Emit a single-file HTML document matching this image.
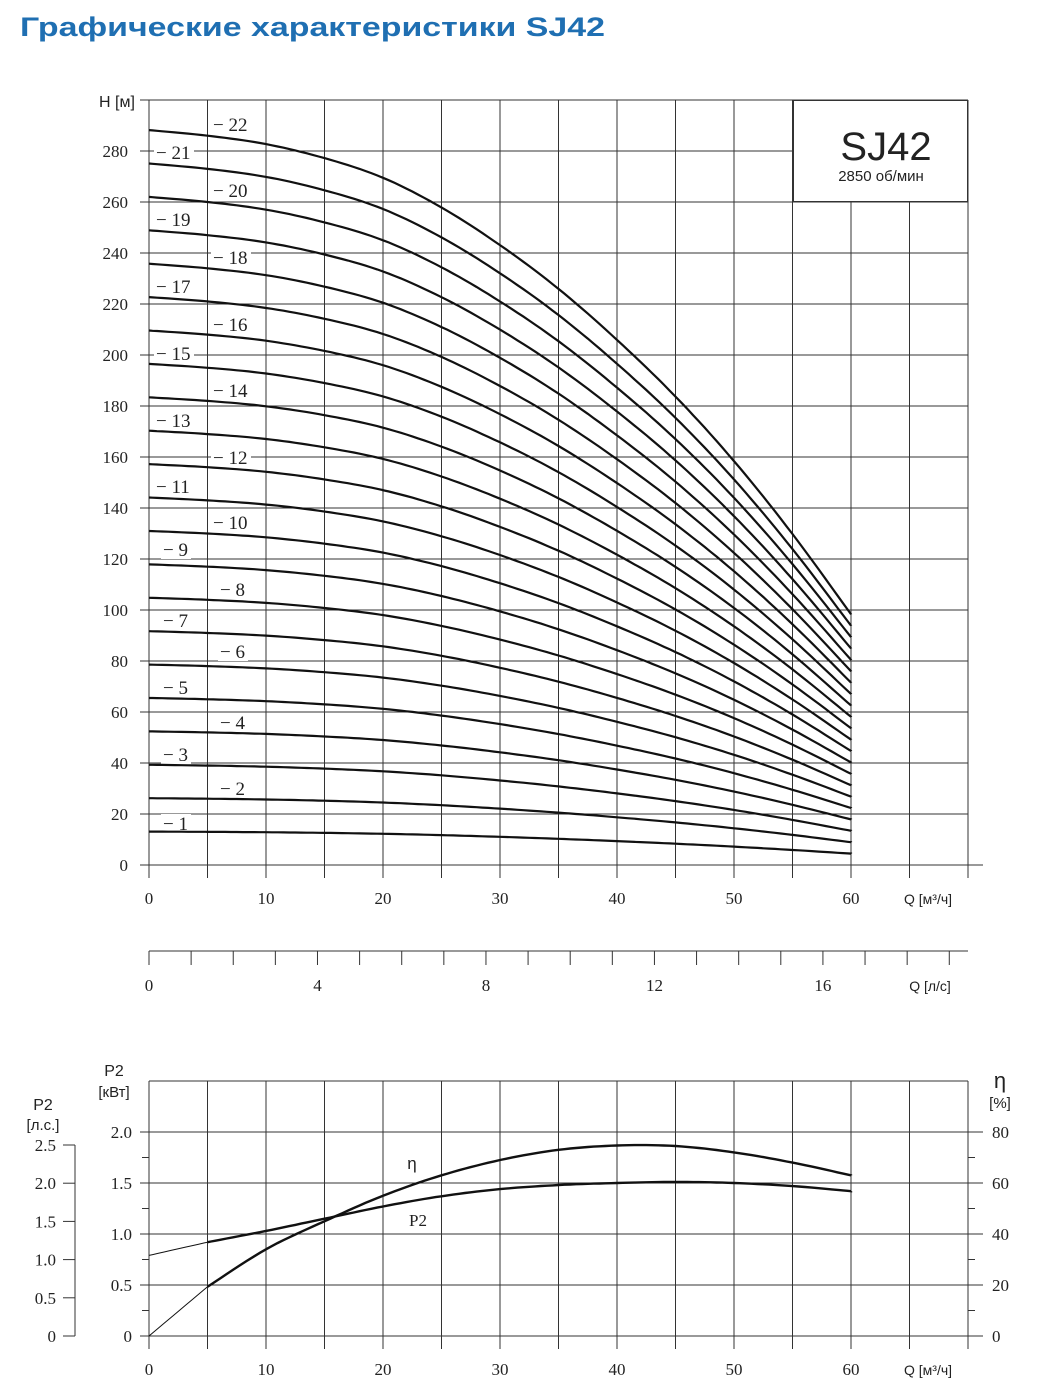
<!DOCTYPE html>
<html><head><meta charset="utf-8"><style>
html,body{margin:0;padding:0;background:#fff;}
svg{display:block}
text{font-family:"Liberation Serif",serif;fill:#222}
.s{font-family:"Liberation Sans","DejaVu Sans",sans-serif}
</style></head><body>
<svg id="c" width="1040" height="1397" xmlns="http://www.w3.org/2000/svg">
<text x="20" y="36" class="s" style="font-size:27px;font-weight:bold;fill:#1f6fb2" textLength="585" lengthAdjust="spacingAndGlyphs">Графические характеристики SJ42</text>
<g id="g"></g>
</svg>
<script>
var g=document.getElementById('g'),o='';
function X(q){return 149+q*11.7}
function Y(h){return 865-h*2.55}
function L(x1,y1,x2,y2,w,c){o+='<line x1="'+x1+'" y1="'+y1+'" x2="'+x2+'" y2="'+y2+'" stroke="'+(c||'#333')+'" stroke-width="'+(w||1)+'"/>';}
function T(x,y,s,sz,a,cl){o+='<text x="'+x+'" y="'+y+'" font-size="'+sz+'" text-anchor="'+(a||'middle')+'"'+(cl?' class="'+cl+'"':'')+'>'+s+'</text>';}
for(var i=0;i<=14;i++){var x=X(i*5);L(x,100,x,878);}
for(var j=0;j<=15;j++){var y=Y(j*20);L(140,y,j==0?983:968,y);}
L(149,100,968,100);
o+='<rect x="793.5" y="100.5" width="174" height="101" fill="#fff" stroke="#333"/>';
T(886,160,'SJ42',40,'middle','s');T(881,181,'2850 об/мин',15,'middle','s');
for(var j=0;j<=14;j++)T(128,Y(j*20)+6,j*20,17,'end');
T(117,107,'H [м]',16,'middle','s');
for(var i=0;i<=12;i+=2)T(X(i*5),904,i*5,17);
T(928,904,'Q [м³/ч]',14,'middle','s');
function path(pts){var d='';for(var i=0;i<pts.length-1;i++){var p0=pts[Math.max(i-1,0)],p1=pts[i],p2=pts[i+1],p3=pts[Math.min(i+2,pts.length-1)];for(var t=0;t<1;t+=0.1){var t2=t*t,t3=t2*t;var f=function(a,b,c,e){return 0.5*(2*b+(-a+c)*t+(2*a-5*b+4*c-e)*t2+(-a+3*b-3*c+e)*t3)};var x=f(p0[0],p1[0],p2[0],p3[0]),y=f(p0[1],p1[1],p2[1],p3[1]);d+=(d?'L':'M')+x.toFixed(1)+','+y.toFixed(1);}}var l=pts[pts.length-1];d+='L'+l[0]+','+l[1];return d;}
var hs=[13.1,13.0,12.85,12.6,12.25,11.72,11.05,10.27,9.36,8.35,7.2,5.9,4.47];
var lab={22:[213,125],21:[156,153],20:[213,191],19:[156,220],18:[213,258],17:[156,287],16:[213,325],15:[156,354],14:[213,391],13:[156,421],12:[213,458],11:[156,487],10:[213,523],9:[163,550],8:[220,590],7:[163,621],6:[220,652],5:[163,688],4:[220,723],3:[163,755],2:[220,789],1:[163,824]};
for(var n=1;n<=22;n++){var l=lab[n];var s='− '+n;var w=String(n).length*10+20;o+='<rect x="'+(l[0]-2)+'" y="'+(l[1]-10)+'" width="'+w+'" height="19" fill="#fff"/>';T(l[0],l[1]+6,s,19,'start');}
for(var n=1;n<=22;n++){var pts=[];for(var k=0;k<13;k++)pts.push([X(k*5),Y(hs[k]*n)]);o+='<path d="'+path(pts)+'" fill="none" stroke="#111" stroke-width="2.2"/>';}
L(149,951,968,951);
for(var k=0;k<=19;k++){var x=149+k*42.12;if(x>969)break;L(x,951,x,965);}
for(var k=0;k<=16;k+=4)T(149+k*42.12,991,k,17);
T(930,991,'Q [л/с]',14,'middle','s');
function Y2(v){return 1336-v*102}
for(var i=0;i<=14;i++){var x=X(i*5);L(x,1081,x,1349);}
L(149,1081,968,1081);
for(var j=0;j<=4;j++){L(140,Y2(j*0.5),983,Y2(j*0.5));}
for(var j=0;j<4;j++){var y=Y2(j*0.5+0.25);L(142,y,149,y);L(968,y,975,y);}
for(var j=0;j<=4;j++){T(132,Y2(j*0.5)+6,(j*0.5).toFixed(j?1:0),17,'end');T(992,Y2(j*0.5)+6,j*20,17,'start');}
T(114,1076,'P2',16,'middle','s');T(114,1097,'[кВт]',15,'middle','s');
T(43,1110,'P2',16,'middle','s');T(43,1130,'[л.с.]',15,'middle','s');
T(1000,1088,'η',22,'middle','s');T(1000,1108,'[%]',15,'middle','s');
L(75,1145,75,1336);
for(var j=0;j<=5;j++){var y=1336-j*38.2;L(63,y,75,y);T(56,y+6,j?(j*0.5).toFixed(1):'0',17,'end');}
for(var i=0;i<=12;i+=2)T(X(i*5),1375,i*5,17);
T(928,1375,'Q [м³/ч]',14,'middle','s');
var eta=[0,19.3,34,45,55,63,69,73,74.7,74.5,72,68,63];
var p2=[0.79,0.92,1.03,1.15,1.27,1.37,1.44,1.48,1.5,1.51,1.5,1.47,1.42];
function Ye(v){return 1336-v*2.55}
var a=[],b=[];for(var k=0;k<13;k++){a.push([X(k*5),Ye(eta[k])]);b.push([X(k*5),Y2(p2[k])]);}
o+='<path d="'+path(a.slice(0,2))+'" fill="none" stroke="#111" stroke-width="1"/>';
o+='<path d="'+path(a.slice(1))+'" fill="none" stroke="#111" stroke-width="2.4"/>';
o+='<path d="'+path(b.slice(0,2))+'" fill="none" stroke="#111" stroke-width="1"/>';
o+='<path d="'+path(b.slice(1))+'" fill="none" stroke="#111" stroke-width="2.4"/>';
T(412,1169,'η',17,'middle','s');T(418,1226,'P2',17);
g.innerHTML=o;
</script>
</body></html>
